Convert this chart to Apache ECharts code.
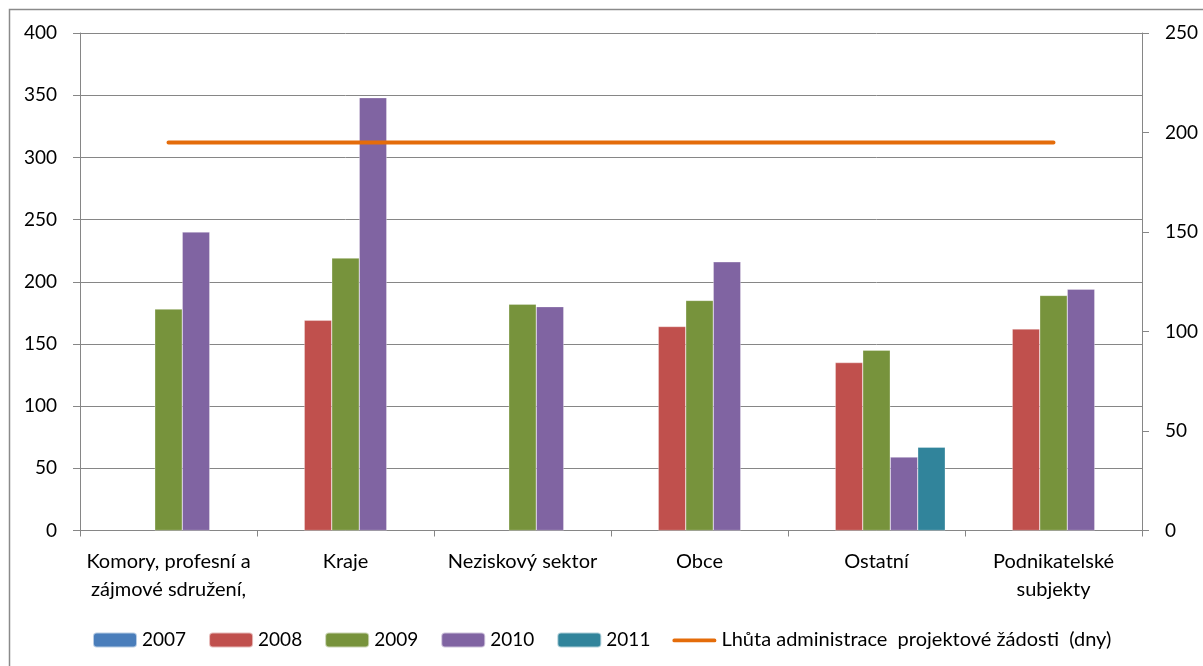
<!DOCTYPE html>
<html>
<head>
<meta charset="utf-8">
<script src="https://cdn.jsdelivr.net/npm/echarts@6/dist/echarts.min.js"></script>
<style>
html,body{margin:0;padding:0;background:#fff;}
#chart{width:1203px;height:666px;}
</style>
</head>
<body>
<div id="chart"></div>
<script>
const categories = ['Komory, profesní a\nzájmové sdružení,', 'Kraje', 'Neziskový sektor', 'Obce', 'Ostatní', 'Podnikatelské\nsubjekty'];
const s2007 = [null, null, null, null, null, null];
const s2008 = [null, 169, null, 164, 135, 162];
const s2009 = [178, 219, 182, 185, 145, 189];
const s2010 = [240, 348, 180, 216, 59, 194];
const s2011 = [null, null, null, null, 67, null];
const lhuta = [195, 195, 195, 195, 195, 195];
const leftTicks = {min: 0, max: 400, interval: 50};
const rightTicks = {min: 0, max: 250, interval: 50};

const FONT = 'Lato';
const chart = echarts.init(document.getElementById('chart'), null, {renderer: 'canvas'});
const barBase = {type: 'bar', barWidth: 27.5, barGap: '0%', yAxisIndex: 0,
  itemStyle: {borderColor: 'rgba(255,255,255,0.6)', borderWidth: 0.5}};
const axisGray = '#868686';
const lineName = 'Lhůta administrace  projektové žádosti  (dny)';
chart.setOption({
  animation: false,
  textStyle: {fontFamily: FONT},
  graphic: [{type: 'rect', shape: {x: 9.5, y: 9.5, width: 1220, height: 700},
    style: {fill: 'none', stroke: '#8a8a8a', lineWidth: 1.5}, silent: true, z: -1}],
  grid: {left: 80, right: 61, top: 33, bottom: 135.5},
  legend: {
    left: 87, top: 625, itemWidth: 44, itemHeight: 15, itemGap: 22,
    textStyle: {fontFamily: FONT, fontSize: 19, color: '#000'},
    data: [{name: '2007'}, {name: '2008'}, {name: '2009'}, {name: '2010'}, {name: '2011'},
      {name: lineName, icon: 'path://M0,0 M2,6 L45,6 A2,2 0 0 1 45,10 L2,10 A2,2 0 0 1 2,6 Z M47,15',
       itemStyle: {color: '#E46C0A'}, textStyle: {fontSize: 20}}]
  },
  xAxis: {
    type: 'category', data: categories,
    axisLine: {lineStyle: {color: axisGray, width: 1}},
    axisTick: {show: true, length: 6, lineStyle: {color: axisGray}},
    axisLabel: {color: '#000', fontSize: 20, fontFamily: FONT, margin: 17, lineHeight: 28, interval: 0}
  },
  yAxis: [{
    type: 'value', position: 'left', min: leftTicks.min, max: leftTicks.max, interval: leftTicks.interval,
    axisLine: {show: true, lineStyle: {color: axisGray}},
    axisTick: {show: true, length: 7, lineStyle: {color: axisGray}},
    splitLine: {lineStyle: {color: axisGray, width: 1}},
    axisLabel: {color: '#000', fontSize: 19, fontFamily: FONT, margin: 23}
  }, {
    type: 'value', position: 'right', min: rightTicks.min, max: rightTicks.max, interval: rightTicks.interval,
    axisLine: {show: true, lineStyle: {color: axisGray}},
    axisTick: {show: true, length: 7, lineStyle: {color: axisGray}},
    splitLine: {show: false},
    axisLabel: {color: '#000', fontSize: 19, fontFamily: FONT, margin: 23}
  }],
  series: [
    Object.assign({}, barBase, {name: '2007', data: s2007, itemStyle: Object.assign({}, barBase.itemStyle, {color: '#4A7EBB'})}),
    Object.assign({}, barBase, {name: '2008', data: s2008, itemStyle: Object.assign({}, barBase.itemStyle, {color: '#C0504D'})}),
    Object.assign({}, barBase, {name: '2009', data: s2009, itemStyle: Object.assign({}, barBase.itemStyle, {color: '#77933C'})}),
    Object.assign({}, barBase, {name: '2010', data: s2010, itemStyle: Object.assign({}, barBase.itemStyle, {color: '#8064A2'})}),
    Object.assign({}, barBase, {name: '2011', data: s2011, itemStyle: Object.assign({}, barBase.itemStyle, {color: '#31849B'})}),
    {type: 'line', name: lineName, data: lhuta, yAxisIndex: 1,
     symbol: 'none', showSymbol: false, color: '#E46C0A',
     lineStyle: {color: '#E46C0A', width: 4, cap: 'round'}, z: 5}
  ]
});
</script>
</body>
</html>
